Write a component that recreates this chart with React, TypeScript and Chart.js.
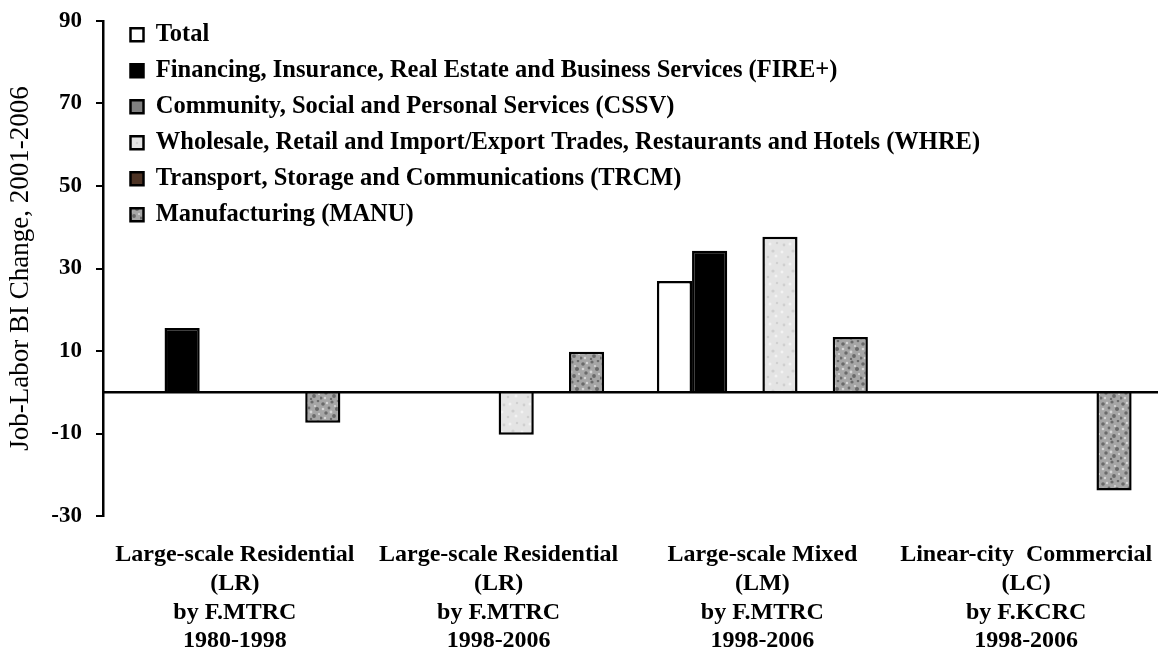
import React, { useEffect, useRef } from "react";
import { Chart, registerables } from "chart.js";

Chart.register(...registerables);

// ---------- data ----------
const categories: string[][] = [
  ["Large-scale Residential", "(LR)", "by F.MTRC", "1980-1998"],
  ["Large-scale Residential", "(LR)", "by F.MTRC", "1998-2006"],
  ["Large-scale Mixed", "(LM)", "by F.MTRC", "1998-2006"],
  ["Linear-city  Commercial", "(LC)", "by F.KCRC", "1998-2006"],
];

const seriesNames = [
  "Total",
  "Financing, Insurance, Real Estate and Business Services (FIRE+)",
  "Community, Social and Personal Services (CSSV)",
  "Wholesale, Retail and Import/Export Trades, Restaurants and Hotels (WHRE)",
  "Transport, Storage and Communications (TRCM)",
  "Manufacturing (MANU)",
];

const totalValues = [null, null, 27.0, null];
const fireValues = [15.6, null, 34.3, null];
const cssvValues = [null, null, null, null];
const whreValues = [null, -10.3, 37.7, null];
const trcmValues = [null, null, null, null];
const manuValues = [-7.4, 9.8, 13.4, -23.8];

const yTicks = [-30, -10, 10, 30, 50, 70, 90];
const yTitle = "Job-Labor BI Change, 2001-2006";

// ---------- styling helpers ----------
const SERIF = "'Liberation Serif', 'Times New Roman', serif";

function makePattern(base: string, spots: number[][], spotColor: string, lightSpots: number[][], lightColor: string) {
  const c = document.createElement("canvas");
  c.width = 20;
  c.height = 20;
  const g = c.getContext("2d")!;
  g.fillStyle = base;
  g.fillRect(0, 0, 20, 20);
  g.fillStyle = spotColor;
  spots.forEach(([x, y, r]) => {
    g.beginPath();
    g.arc(x, y, r, 0, Math.PI * 2);
    g.fill();
  });
  g.fillStyle = lightColor;
  lightSpots.forEach(([x, y, r]) => {
    g.beginPath();
    g.arc(x, y, r, 0, Math.PI * 2);
    g.fill();
  });
  return g.createPattern(c, "repeat");
}

const zeroLinePlugin = {
  id: "zeroLine",
  afterDatasetsDraw(chart: any) {
    const { ctx, chartArea, scales } = chart;
    const y = scales.y.getPixelForValue(0);
    ctx.save();
    ctx.strokeStyle = "#000";
    ctx.lineWidth = 2.5;
    ctx.beginPath();
    ctx.moveTo(chartArea.left, y);
    ctx.lineTo(chartArea.right, y);
    ctx.stroke();
    ctx.restore();
  },
};

const legendPlacePlugin = {
  id: "legendPlace",
  afterLayout(chart: any) {
    const lg = chart.legend;
    if (lg) {
      lg.left = 119;
      lg.top = 11;
    }
  },
};

export default function App() {
  const ref = useRef<HTMLCanvasElement | null>(null);

  useEffect(() => {
    if (!ref.current) return;
    const manuPat = makePattern(
      "#a6a6a6",
      [[3, 4, 1.8], [12, 2, 1.6], [17, 9, 2.0], [6, 13, 1.7], [14, 16, 1.9], [9, 8, 1.4], [1, 18, 1.5], [18, 1, 1.3], [11, 19, 1.2]],
      "#6a6a6a",
      [[7, 3, 1.2], [15, 6, 1.1], [3, 9, 1.3], [11, 12, 1.4], [19, 14, 1.1], [5, 18, 1.2]],
      "#d6d6d6"
    );
    const whrePat = makePattern(
      "#e4e4e4",
      [[4, 5, 1.4], [13, 11, 1.6], [8, 17, 1.3], [17, 3, 1.2]],
      "#cfcfcf",
      [[10, 4, 1.5], [2, 12, 1.4], [16, 16, 1.5]],
      "#f3f3f3"
    );

    const colors: any[] = ["#ffffff", "#000000", "#808080", whrePat, "#4d3324", manuPat];
    const values = [totalValues, fireValues, cssvValues, whreValues, trcmValues, manuValues];

    const chart = new Chart(ref.current, {
      type: "bar",
      data: {
        labels: categories,
        datasets: seriesNames.map((name, i) => ({
          label: name,
          data: values[i],
          backgroundColor: colors[i],
          borderColor: "#000000",
          borderWidth: 2.5,
          categoryPercentage: 0.8,
          barPercentage: 1.0,
        })),
      },
      options: {
        animation: false,
        responsive: true,
        maintainAspectRatio: false,
        layout: { padding: { top: 21, right: 0, bottom: 0, left: 0 } },
        plugins: {
          tooltip: { enabled: false },
          legend: {
            position: "chartArea" as any,
            align: "start",
            labels: {
              boxWidth: 13,
              boxHeight: 13,
              padding: 11.5,
              color: "#000",
              font: { family: SERIF, size: 24.5, weight: "bold" },
            },
          },
        },
        scales: {
          x: {
            grid: { display: false, drawTicks: false },
            border: { display: false },
            ticks: {
              autoSkip: false,
              maxRotation: 0,
              color: "#000",
              padding: 25,
              font: { family: SERIF, size: 24, weight: "bold", lineHeight: 1.19 },
            },
            afterFit: (s: any) => {
              s.height = 132;
              s.paddingLeft = 0;
              s.paddingRight = 0;
            },
          },
          y: {
            min: -30,
            max: 90,
            afterBuildTicks: (s: any) => {
              s.ticks = yTicks.map((v) => ({ value: v }));
            },
            afterFit: (s: any) => {
              s.width = 103;
              s.paddingTop = 0;
              s.paddingBottom = 0;
            },
            grid: {
              display: true,
              drawOnChartArea: false,
              drawTicks: true,
              tickLength: 7,
              color: "#000",
              lineWidth: 2,
            },
            border: { display: true, color: "#000", width: 2.5 },
            ticks: {
              color: "#000",
              padding: 14,
              font: { family: SERIF, size: 23, weight: "bold" },
            },
            title: {
              display: true,
              text: yTitle,
              color: "#000",
              padding: { top: 6, bottom: 0 },
              font: { family: SERIF, size: 27, weight: "normal", lineHeight: 1.1 },
            },
          },
        },
      },
      plugins: [zeroLinePlugin, legendPlacePlugin],
    });
    return () => chart.destroy();
  }, []);

  return (
    <div style={{ position: "fixed", left: 0, top: 0, width: 1158, height: 648, background: "#fff" }}>
      <canvas ref={ref} />
    </div>
  );
}
